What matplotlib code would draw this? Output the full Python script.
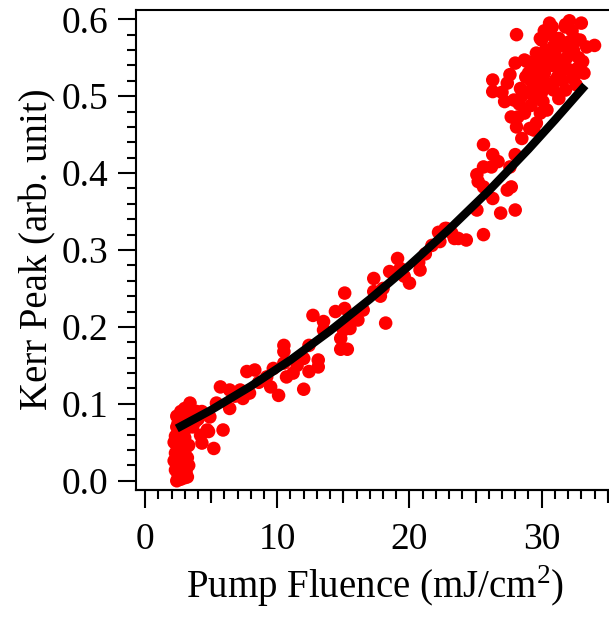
import matplotlib
matplotlib.use("Agg")
import matplotlib.pyplot as plt
from matplotlib.ticker import MultipleLocator, FixedLocator

# scatter data (fluence in mJ/cm2, Kerr peak in arb. unit)
fluence_low = [2.4, 2.7, 3.0, 2.5, 2.9, 2.3, 2.7, 3.1, 2.4, 2.8, 2.5, 2.9, 2.3, 2.7, 3.0,
               2.4, 2.8, 2.6, 2.3, 3.0, 2.5, 2.8, 2.4, 3.1, 2.6, 2.9, 2.4, 3.2, 2.7, 3.3,
               3.2, 2.6, 2.2, 2.2, 3.3, 3.2, 2.5, 2.9, 3.4, 3.0]
kerr_low = [0.000, 0.002, 0.004, 0.008, 0.010, 0.014, 0.016, 0.012, 0.022, 0.024, 0.030,
            0.032, 0.036, 0.040, 0.038, 0.046, 0.048, 0.054, 0.058, 0.056, 0.062, 0.064,
            0.070, 0.068, 0.076, 0.080, 0.084, 0.086, 0.090, 0.020, 0.030, 0.006, 0.026,
            0.050, 0.046, 0.005, 0.018, 0.060, 0.075, 0.094]

fluence_mid = [3.4, 3.0, 3.9, 4.3, 4.9, 4.7, 5.9, 2.5, 3.8, 4.2, 4.3, 5.2, 4.8, 3.6, 4.0, 3.3,
               5.7, 6.4, 7.2, 7.4, 7.9, 5.4, 6.4, 7.7, 8.3, 9.7, 10.5, 9.2, 10.7, 11.2, 9.5,
               10.1, 12.0, 10.5, 10.5, 12.0, 13.1, 13.1, 12.4, 12.4, 6.8, 8.6, 11.5,
               18.5, 17.3, 18.0, 17.3, 15.1, 15.1, 14.4, 12.7, 13.5, 13.5, 15.6, 16.1, 15.5,
               15.0, 14.8, 14.8, 15.3, 18.2, 16.5, 17.8,
               19.3, 19.6, 20.0, 20.7, 20.8, 21.2, 21.7, 22.2, 22.8, 23.2, 23.7, 19.1, 22.3,
               22.7, 23.4, 24.3]
kerr_mid = [0.101, 0.088, 0.090, 0.090, 0.083, 0.066, 0.066, 0.075, 0.077, 0.059, 0.049,
            0.042, 0.064, 0.070, 0.080, 0.082,
            0.122, 0.118, 0.118, 0.107, 0.114, 0.101, 0.094, 0.142, 0.144, 0.146, 0.153,
            0.135, 0.135, 0.140, 0.122, 0.111, 0.119, 0.176, 0.168, 0.159, 0.157, 0.148,
            0.142, 0.176, 0.110, 0.128, 0.150,
            0.272, 0.263, 0.250, 0.246, 0.244, 0.224, 0.220, 0.215, 0.207, 0.196, 0.207,
            0.209, 0.198, 0.196, 0.185, 0.171, 0.171, 0.205, 0.222, 0.240,
            0.276, 0.266, 0.257, 0.284, 0.274, 0.295, 0.306, 0.323, 0.328, 0.322, 0.315,
            0.289, 0.311, 0.328, 0.315, 0.313]

fluence_high = [25.6, 26.9, 28.0, 25.1, 26.3, 27.4, 27.7, 25.6, 25.2, 25.1, 25.6, 26.2, 26.7,
                27.6, 26.3, 28.0, 25.6, 28.5, 28.1, 29.1, 28.2, 27.7, 28.7, 29.6, 29.4,
                26.3, 26.3, 27.2, 27.4, 27.6, 28.0, 28.9, 28.1, 28.4, 29.1, 29.6, 30.0, 30.6,
                31.8, 33.0, 33.4, 32.7, 32.4, 31.8, 30.9, 31.3, 30.1, 30.4, 29.9, 28.7, 29.9,
                32.9, 31.8, 34.0,
                29.2, 29.5, 29.8, 30.2, 30.5, 30.8, 31.0, 31.2, 31.5, 31.7, 32.0, 32.2, 32.5,
                32.8, 30.3, 30.7, 31.3, 29.4, 30.0, 31.6, 32.3, 33.1, 29.0, 30.9, 31.9, 32.6,
                31.1, 30.4, 29.7, 28.5, 28.8, 27.9, 27.0, 28.3, 29.2, 33.2, 32.1, 30.8,
                30.0, 30.6, 31.4, 32.0, 29.6, 31.0, 32.4, 30.2]
kerr_high = [0.320, 0.348, 0.352, 0.352, 0.367, 0.378, 0.382, 0.382, 0.389, 0.398, 0.408,
             0.408, 0.415, 0.408, 0.424, 0.424, 0.437, 0.445, 0.460, 0.458, 0.473, 0.473,
             0.478, 0.465, 0.456,
             0.521, 0.506, 0.493, 0.517, 0.528, 0.543, 0.545, 0.580, 0.510, 0.506, 0.556,
             0.573, 0.595, 0.593, 0.595, 0.564, 0.536, 0.523, 0.508, 0.508, 0.497, 0.493,
             0.482, 0.478, 0.547, 0.575, 0.573, 0.590, 0.566,
             0.520, 0.535, 0.548, 0.530, 0.515, 0.540, 0.555, 0.525, 0.545, 0.565, 0.535,
             0.555, 0.575, 0.550, 0.560, 0.580, 0.575, 0.500, 0.505, 0.520, 0.585, 0.545,
             0.530, 0.565, 0.550, 0.515, 0.540, 0.545, 0.515, 0.500, 0.525, 0.495, 0.505,
             0.490, 0.488, 0.530, 0.598, 0.590,
             0.525, 0.550, 0.530, 0.570, 0.540, 0.520, 0.560, 0.585]

# fit curve
fit_x = [2.4, 5, 8, 11, 14, 17, 20, 23, 26, 29, 31, 33.3]
fit_y = [0.068, 0.092, 0.123, 0.157, 0.195, 0.236, 0.280, 0.327, 0.377, 0.431, 0.469, 0.514]

plt.rcParams['font.family'] = ['Liberation Serif', 'DejaVu Serif']
plt.rcParams['mathtext.fontset'] = 'custom'
plt.rcParams['mathtext.rm'] = 'Liberation Serif'

fig = plt.figure(figsize=(6.09, 6.17), dpi=100)
ax = fig.add_axes([0.2241, 0.2066, 0.7847, 0.7780])

fx = fluence_low + fluence_mid + fluence_high
ky = kerr_low + kerr_mid + kerr_high
ax.scatter(fx, ky, s=95, color='#ff0000', edgecolors='none', zorder=2)
ax.plot(fit_x, fit_y, color='black', lw=6, solid_capstyle='butt', zorder=3)

ax.set_xlim(-0.65, 35.5)
ax.set_ylim(-0.0114, 0.6127)

for sp in ax.spines.values():
    sp.set_linewidth(1.5)

ax.set_xticks([0, 10, 20, 30])
ax.xaxis.set_minor_locator(MultipleLocator(1))
ax.set_yticks([0.0, 0.1, 0.2, 0.3, 0.4, 0.5, 0.6])
ax.set_yticklabels(["0.0", "0.1", "0.2", "0.3", "0.4", "0.5", "0.6"])
ax.yaxis.set_minor_locator(MultipleLocator(0.02))

ax.tick_params(axis='both', which='major', direction='out', length=13, width=1.5,
               labelsize=27)
ax.tick_params(axis='both', which='minor', direction='out', length=6.5, width=1.5)
ax.tick_params(axis='x', which='major', pad=11)
ax.tick_params(axis='y', which='major', pad=7)

# medium ticks at 5, 15, 25, 35
sec = ax.secondary_xaxis('bottom')
sec.xaxis.set_major_locator(FixedLocator([5, 15, 25, 35]))
sec.tick_params(direction='out', length=9.5, width=1.5, labelbottom=False)
sec.spines['bottom'].set_linewidth(1.5)

ax.set_xlabel(r'Pump Fluence (mJ/cm$^{\mathregular{2}}$)', fontsize=28, labelpad=4)
ax.set_ylabel('Kerr Peak (arb. unit)', fontsize=28, labelpad=4)

fig.savefig('out.png', dpi=100)
plt.close(fig)
